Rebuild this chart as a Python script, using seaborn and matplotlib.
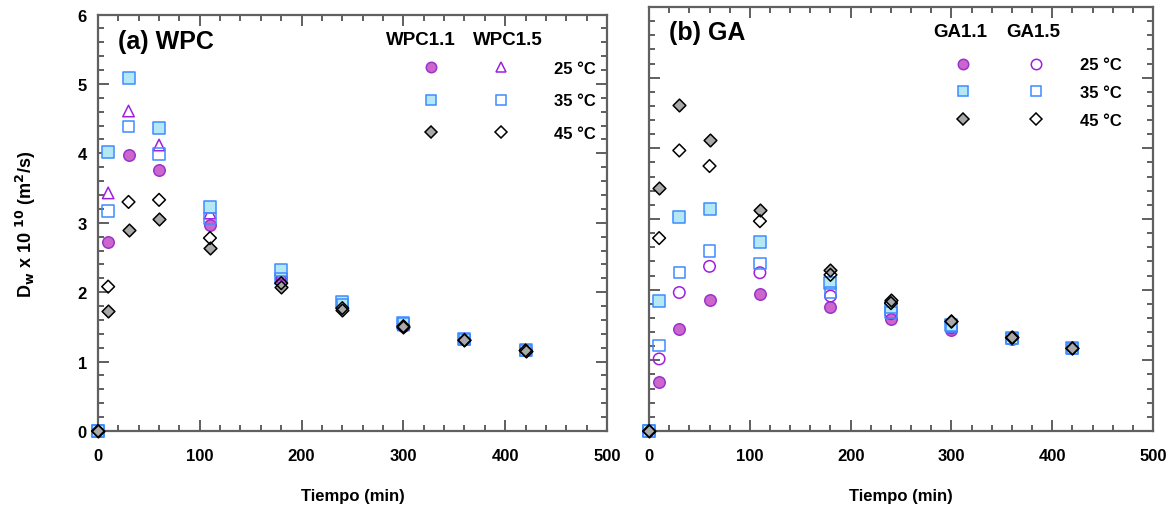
import seaborn as sns
import pandas as pd
import matplotlib.pyplot as plt
from matplotlib.lines import Line2D
from matplotlib.ticker import MultipleLocator

sns.set_style("ticks")
plt.rcParams['font.family'] = ['Liberation Sans', 'DejaVu Sans']
plt.rcParams['font.weight'] = 'bold'
plt.rcParams['text.color'] = 'black'
plt.rcParams['axes.labelcolor'] = 'black'

tiempo = [0, 10, 30, 60, 110, 180, 240, 300, 360, 420]

# WPC
wpc11_25 = [0, 2.73, 3.98, 3.76, 2.97, 2.21, 1.80, 1.52, 1.32, 1.16]
wpc15_25 = [0, 3.43, 4.61, 4.12, 3.14, 2.26, 1.84, 1.53, 1.33, 1.17]
wpc11_35 = [0, 4.02, 5.09, 4.37, 3.23, 2.32, 1.86, 1.55, 1.33, 1.17]
wpc15_35 = [0, 3.17, 4.39, 3.99, 3.06, 2.20, 1.82, 1.54, 1.32, 1.16]
wpc11_45 = [0, 1.73, 2.90, 3.05, 2.63, 2.08, 1.74, 1.50, 1.31, 1.15]
wpc15_45 = [0, 2.08, 3.30, 3.33, 2.78, 2.13, 1.77, 1.51, 1.31, 1.16]

# GA
ga11_25 = [0, 0.69, 1.44, 1.86, 1.94, 1.76, 1.58, 1.43, 1.30, 1.17]
ga15_25 = [0, 1.02, 1.96, 2.33, 2.24, 1.91, 1.66, 1.46, 1.31, 1.17]
ga11_35 = [0, 1.84, 3.03, 3.14, 2.68, 2.09, 1.75, 1.50, 1.31, 1.18]
ga15_35 = [0, 1.21, 2.24, 2.55, 2.37, 1.96, 1.68, 1.48, 1.31, 1.17]
ga11_45 = [0, 3.44, 4.61, 4.12, 3.13, 2.28, 1.85, 1.56, 1.33, 1.18]
ga15_45 = [0, 2.73, 3.97, 3.75, 2.97, 2.21, 1.81, 1.55, 1.32, 1.17]

temps = ["25 °C", "35 °C", "45 °C"]

purple_f, purple_e = "#cc66cc", "#9933cc"
purple_o = "#9f1fe0"
blue_e, cyan_f = "#3d8cff", "#b4e8f4"
gray_f = "#a9a9a9"

# style per (formulation, temp)
styles_wpc = [
    dict(marker="o", fc=purple_f, ec=purple_e, s=68),
    dict(marker="^", fc="none", ec=purple_o, s=68),
    dict(marker="s", fc=cyan_f, ec=blue_e, s=68),
    dict(marker="s", fc="none", ec=blue_e, s=68),
    dict(marker="D", fc=gray_f, ec="black", s=42),
    dict(marker="D", fc="none", ec="black", s=42),
]
styles_ga = list(styles_wpc)
styles_ga[1] = dict(marker="o", fc="none", ec=purple_o, s=68)


def panel(ax, series, styles, title, title_y, names, head_y, head_x, leg_kw):
    for vals, st in zip(series, styles):
        df = pd.DataFrame({"t": tiempo, "D": vals})
        sns.scatterplot(data=df, x="t", y="D", ax=ax, marker=st["marker"],
                        s=st["s"], facecolor=st["fc"], edgecolor=st["ec"],
                        linewidth=1.1, zorder=3, clip_on=False)
    ax.set_xlim(0, 500)
    ax.set_ylim(0, 6)
    ax.xaxis.set_major_locator(MultipleLocator(100))
    ax.xaxis.set_minor_locator(MultipleLocator(20))
    ax.yaxis.set_major_locator(MultipleLocator(1))
    ax.yaxis.set_minor_locator(MultipleLocator(0.2))
    ax.tick_params(which="both", direction="in", top=True, right=True,
                   color="#444444", width=1.2, labelcolor="black")
    ax.tick_params(which="major", length=8, labelsize=12)
    ax.tick_params(axis="x", which="major", pad=12)
    ax.tick_params(axis="y", which="major", pad=8)
    ax.tick_params(which="minor", length=4)
    for sp in ax.spines.values():
        sp.set_color("#606060")
        sp.set_linewidth(1.6)
    ax.set_xlabel("Tiempo (min)", fontsize=12, fontweight="bold", labelpad=18)
    ax.set_ylabel("")
    ax.text(0.04, title_y, title, transform=ax.transAxes, fontsize=18,
            fontweight="bold", va="center")

    handles = []
    labels = []
    for col in (0, 1):
        for r in range(3):
            st = styles[2 * r + col]
            handles.append(Line2D([], [], linestyle="", marker=st["marker"],
                                  markersize=7.5 if st["marker"] != "D" else 6,
                                  markerfacecolor=st["fc"],
                                  markeredgecolor=st["ec"], markeredgewidth=1.1))
            labels.append("" if col == 0 else temps[r])
    leg = ax.legend(handles, labels, ncol=2, frameon=False, loc="upper right",
                    fontsize=12, handlelength=1.0, borderaxespad=0, **leg_kw)
    for txt in leg.get_texts():
        txt.set_fontweight("bold")
    for nm, hx in zip(names, head_x):
        ax.text(hx, head_y, nm, transform=ax.transAxes, fontsize=13.5,
                fontweight="bold", ha="center", va="center")


fig = plt.figure(figsize=(11.72, 5.10), dpi=100)
ax1 = fig.add_axes([0.0836, 0.1529, 0.4343, 0.8167])
ax2 = fig.add_axes([0.5538, 0.1529, 0.4300, 0.8314])

panel(ax1, [wpc11_25, wpc15_25, wpc11_35, wpc15_35, wpc11_45, wpc15_45],
      styles_wpc, "(a) WPC", 0.936, ["WPC1.1", "WPC1.5"], 0.941, [0.635, 0.806],
      dict(bbox_to_anchor=(0.992, 0.905), handletextpad=2.7,
           columnspacing=0.52, labelspacing=1.06))
panel(ax2, [ga11_25, ga15_25, ga11_35, ga15_35, ga11_45, ga15_45],
      styles_ga, "(b) GA", 0.941, ["GA1.1", "GA1.5"], 0.943, [0.617, 0.762],
      dict(bbox_to_anchor=(0.952, 0.897), handletextpad=2.14,
           columnspacing=1.24, labelspacing=0.77))
ax2.set_yticklabels([])

fig.text(0.022, 0.56, r"D$_\mathbf{w}$ x 10 $^{\mathbf{10}}$ (m$^\mathbf{2}$/s)",
         rotation=90, fontsize=13, fontweight="bold", ha="center", va="center")

fig.savefig("out.png", dpi=100)
